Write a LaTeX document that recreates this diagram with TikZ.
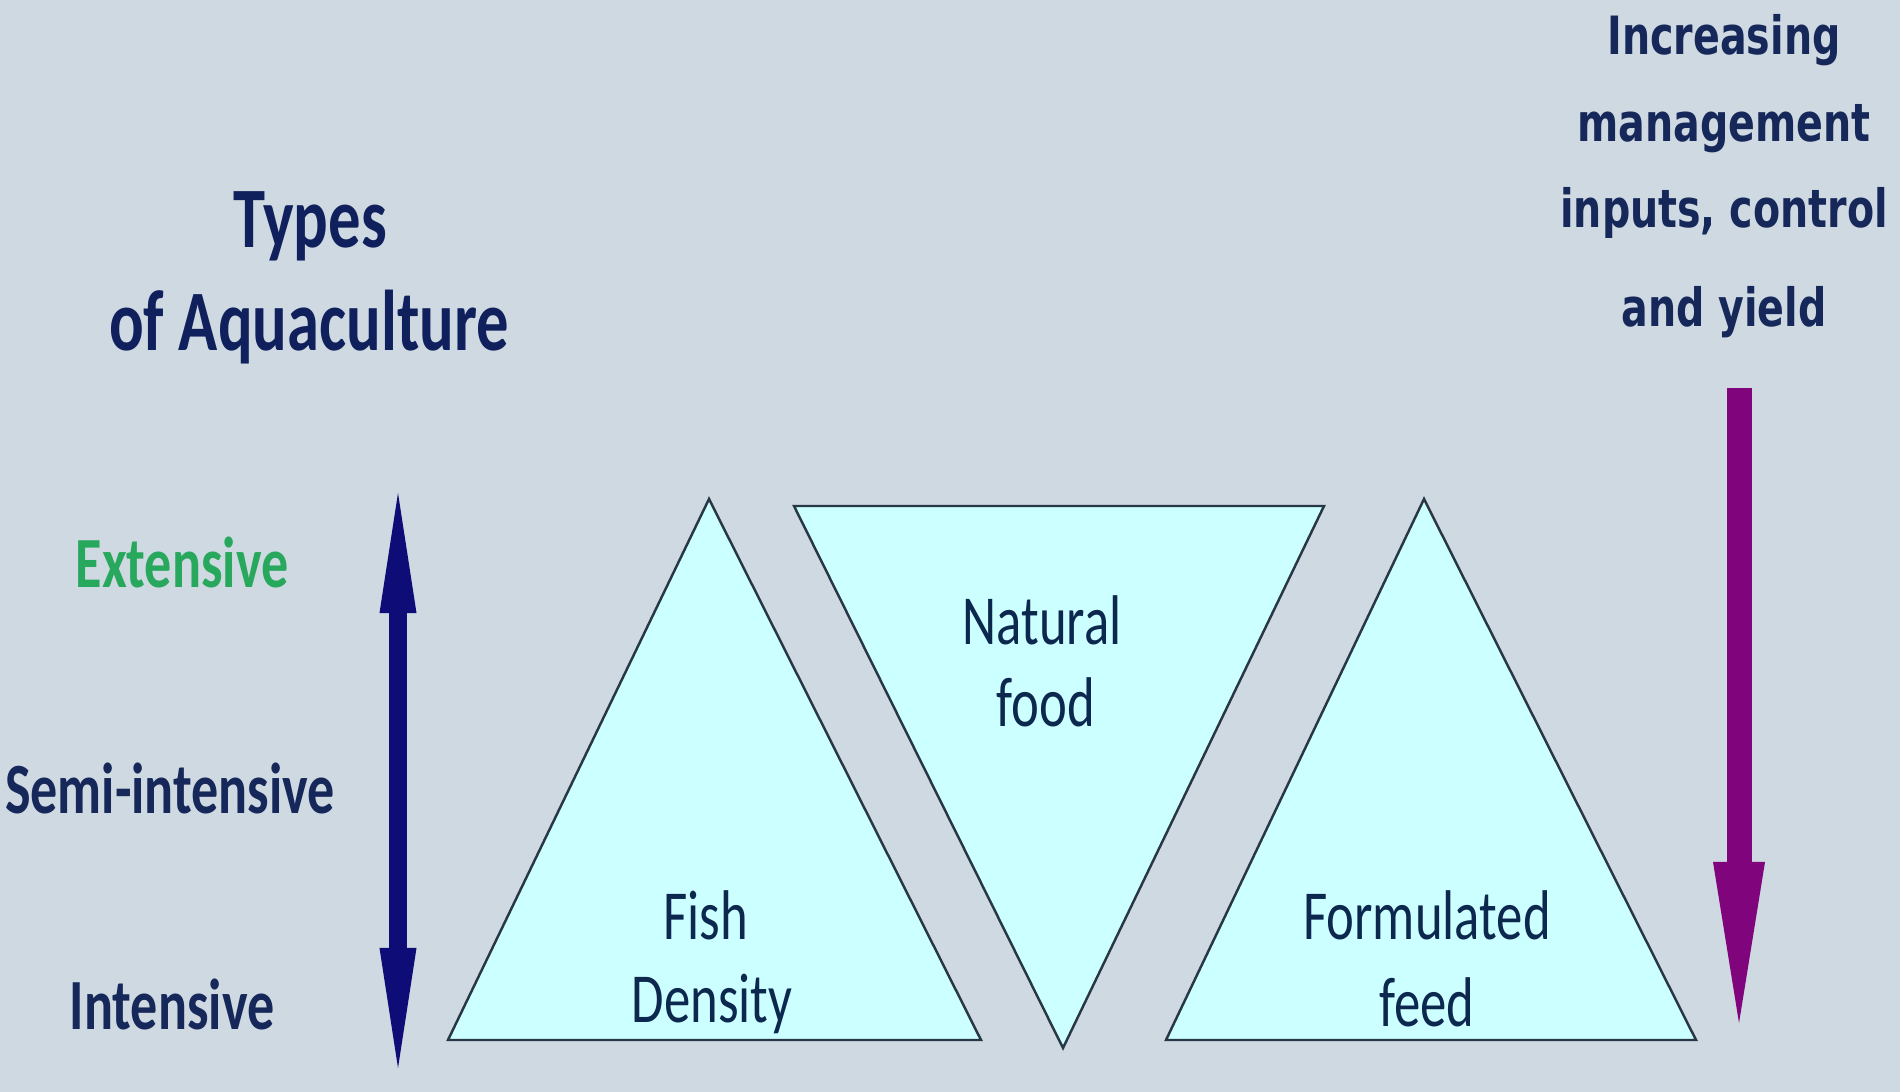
\documentclass[tikz,border=0pt]{standalone}
\usepackage{fontspec}
\setmainfont{Carlito}[FakeStretch=0.75]
\newfontfamily\headfont{DejaVu Sans}[FakeStretch=0.75]
\usepackage{tikz}
\usetikzlibrary{arrows.meta}
\definecolor{slidebg}{RGB}{207,217,226}
\definecolor{trifill}{RGB}{204,255,255}
\definecolor{triedge}{RGB}{40,55,70}
\definecolor{titlenavy}{RGB}{16,32,92}
\definecolor{labelnavy}{RGB}{22,40,90}
\definecolor{extgreen}{RGB}{40,168,92}
\definecolor{textnavy}{RGB}{12,40,78}
\definecolor{scalearrow}{RGB}{14,12,118}
\definecolor{inputarrow}{RGB}{128,4,124}

\begin{document}
\begin{tikzpicture}[x=0.01cm, y=-0.01cm,
    tri/.style={fill=trifill, draw=triedge, line width=0.7pt, line join=miter},
    tritext/.style={anchor=base, inner sep=0pt, text=textnavy, font=\fontsize{20}{24}\selectfont},
    level/.style={anchor=base, inner sep=0pt, font=\bfseries\fontsize{20.5}{24}\selectfont},
    head/.style={anchor=base, inner sep=0pt, text=labelnavy, font=\headfont\bfseries\fontsize{15}{18}\selectfont}]

    % Background
    \fill[slidebg] (0,0) rectangle (1900,1092);
    \useasboundingbox (0,0) rectangle (1900,1092);

    % Title
    \node[level, text=titlenavy, font=\bfseries\fontsize{24.5}{28}\selectfont] (types) at (310,248) {Types};
    \node[level, text=titlenavy, font=\bfseries\fontsize{24.5}{28}\selectfont] (aqua) at (309,351) {of Aquaculture};

    % Levels
    \foreach \name/\x/\y/\col/\label in {ext/182/588/extgreen/Extensive, semi/170/814/labelnavy/Semi-intensive, int/172/1029/labelnavy/Intensive} {
        \node[level, text=\col] (\name) at (\x,\y) {\label};
    }

    % Intensity scale
    \coordinate (scaleTop) at (398,493);
    \coordinate (scaleBot) at (398,1068);
    \draw[scalearrow, line width=0.18cm, {Triangle[length=1.2cm, width=0.37cm, line width=0pt]}-{Triangle[length=1.2cm, width=0.37cm, line width=0pt]}] (scaleTop) -- (scaleBot);

    % Triangles
    \draw[tri] (709,499) -- (981,1040) -- (448,1040) -- cycle;
    \draw[tri] (794,506) -- (1324,506) -- (1063,1048) -- cycle;
    \draw[tri] (1424,499) -- (1696,1040) -- (1166,1040) -- cycle;

    % Triangle labels
    \node[tritext] (fish) at (706,940) {Fish};
    \node[tritext] (density) at (712,1022) {Density};
    \node[tritext] (natural) at (1042,645) {Natural};
    \node[tritext] (food) at (1046,727) {food};
    \node[tritext] (formulated) at (1427,940) {Formulated};
    \node[tritext] (feed) at (1427,1026) {feed};

    % Management inputs
    \node[head] (incr) at (1724,55) {Increasing};
    \node[head] (mgmt) at (1724,142) {management};
    \node[head] (inputs) at (1724,228) {inputs, control};
    \node[head] (yield) at (1724,327) {and yield};
    \coordinate (inputTop) at (1739,388);
    \coordinate (inputTip) at (1739,1023);
    \draw[inputarrow, line width=0.25cm, -{Triangle[length=1.61cm, width=0.52cm, line width=0pt]}] (inputTop) -- (inputTip);
\end{tikzpicture}
\end{document}
